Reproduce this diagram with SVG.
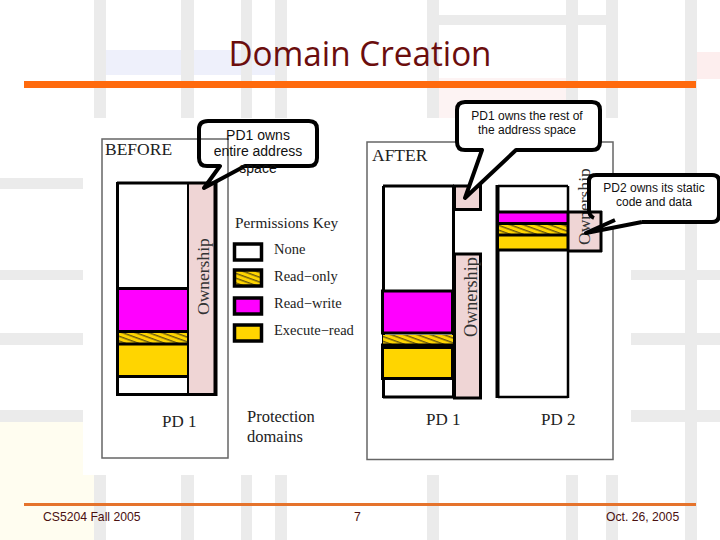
<svg xmlns="http://www.w3.org/2000/svg" width="720" height="540" viewBox="0 0 720 540">
<style>
.g{fill:#ebebeb}
.s{font-family:"Liberation Serif",serif;fill:#222}
.w{font-size:17.500px;fill:#333}
.a{font-family:"Liberation Sans",Arial,sans-serif;fill:#111;font-size:12px;text-anchor:middle}
.f{font-family:"Liberation Sans",Arial,sans-serif;fill:#4a1010;font-size:12.200px}
.b{fill:none;stroke:#000}
.c{fill:none;stroke:#000;stroke-width:4;stroke-linejoin:round}
.o{fill:#efd5d5}
.box{fill:#fff;stroke:#666;stroke-width:1.500}
</style>
<defs>
<pattern id="h" width="9" height="4.500" patternUnits="userSpaceOnUse" patternTransform="rotate(20)">
<rect width="9" height="4.500" fill="#ffd500"/><rect width="9" height="1.400" fill="#6b5a10"/>
</pattern>
</defs>
<rect width="720" height="540" fill="#fff"/>
<g id="background">
<rect x="105" y="50" width="170" height="25" fill="#eef0fb"/>
<rect x="697" y="52" width="23" height="27" fill="#fdeeee"/>
<rect x="438" y="78" width="128" height="40" fill="#fdf3f3"/>
<rect x="0" y="422" width="83" height="118" fill="#fffdf0"/>
<rect x="83" y="475" width="12" height="65" fill="#fffdf0"/>
<rect class="g" x="94" y="0" width="12" height="118"/><rect class="g" x="181" y="0" width="13" height="118"/><rect class="g" x="241" y="0" width="11" height="118"/><rect class="g" x="275" y="0" width="12" height="118"/>
<rect class="g" x="427" y="0" width="12" height="118"/><rect class="g" x="566" y="0" width="12" height="118"/><rect class="g" x="606" y="0" width="12" height="118"/>
<rect class="g" x="427" y="15" width="190" height="10"/>
<rect class="g" x="94" y="475" width="12" height="65"/><rect class="g" x="181" y="475" width="13" height="65"/><rect class="g" x="241" y="475" width="11" height="65"/><rect class="g" x="275" y="475" width="12" height="65"/>
<rect class="g" x="427" y="475" width="12" height="65"/><rect class="g" x="566" y="475" width="12" height="65"/><rect class="g" x="606" y="475" width="12" height="65"/>
<rect class="g" x="685" y="0" width="12" height="540"/>
<rect class="g" x="0" y="178" width="83" height="11"/><rect class="g" x="0" y="270" width="83" height="10"/><rect class="g" x="0" y="333" width="83" height="12"/><rect class="g" x="0" y="410" width="83" height="12"/>
<rect class="g" x="631" y="178" width="89" height="11"/><rect class="g" x="631" y="270" width="89" height="10"/><rect class="g" x="631" y="333" width="89" height="12"/><rect class="g" x="631" y="410" width="89" height="12"/>
</g>
<rect x="24" y="81" width="672" height="7" fill="#ff6a0d"/>
<rect x="24" y="503" width="672" height="3" fill="#e5732c"/>
<text x="360" y="66" text-anchor="middle" font-family="'Open Sans','Noto Sans',sans-serif" font-size="34" fill="#6b0d0d" textLength="263" lengthAdjust="spacingAndGlyphs">Domain Creation</text>
<g id="before">
<rect class="box" x="102" y="139" width="126" height="319"/>
<text class="s" x="105" y="155" font-size="17.500">BEFORE</text>
<rect x="189" y="183" width="26" height="211" class="o"/>
<rect x="118" y="289" width="70" height="42" fill="#ff00ff"/>
<rect x="118" y="333" width="70" height="10" fill="url(#h)"/>
<rect x="118" y="345" width="70" height="30" fill="#ffd500"/>
<path class="b" stroke-width="3" d="M117 288.500H188M117 331.500H188M117 344H188M117 376.500H188"/>
<path class="b" stroke-width="3" d="M117 183H216M116 394.500H217M117.500 182V396"/>
<path class="b" stroke-width="2" d="M188 183V394"/>
<path class="b" stroke-width="4" d="M215.500 182V396"/>
<text class="s w" transform="translate(209,315) rotate(-90)">Ownership</text>
<text class="s" x="162" y="427" font-size="17">PD 1</text>
</g>
<g id="key">
<text class="s" x="235" y="228" font-size="15.300">Permissions Key</text>
<rect x="234.500" y="244" width="27" height="16" fill="#fff" stroke="#000" stroke-width="3.500"/>
<rect x="234.500" y="270" width="27" height="16" fill="url(#h)" stroke="#000" stroke-width="3.500"/>
<rect x="234.500" y="298" width="27" height="16" fill="#ff00ff" stroke="#000" stroke-width="3.500"/>
<rect x="234.500" y="325" width="27" height="16" fill="#ffd500" stroke="#000" stroke-width="3.500"/>
<text class="s" x="274" y="254" font-size="14.500">None</text>
<text class="s" x="274" y="281" font-size="14.500">Read−only</text>
<text class="s" x="274" y="308" font-size="14.500">Read−write</text>
<text class="s" x="274" y="335" font-size="14.500">Execute−read</text>
<text class="s" x="247" y="422" font-size="16.500">Protection</text>
<text class="s" x="247" y="442" font-size="16.500">domains</text>
</g>
<g id="after">
<rect class="box" x="367" y="142" width="246" height="317.500"/>
<text class="s" x="372" y="161" font-size="17.500" fill="#444">AFTER</text>
<rect x="383" y="186" width="70" height="212" fill="#fff"/>
<rect x="454.500" y="186" width="26" height="23.500" class="o" stroke="#000" stroke-width="3"/>
<rect x="454.500" y="254" width="26" height="144" class="o" stroke="#000" stroke-width="3"/>
<path class="b" stroke-width="3" d="M383 186H454M383.500 186V398M383 397H454M453.500 186V398"/>
<rect x="382.500" y="291" width="70" height="42" fill="#ff00ff" stroke="#000" stroke-width="3"/>
<rect x="383" y="335" width="70" height="9" fill="url(#h)"/>
<rect x="382.500" y="347.500" width="70" height="31" fill="#ffd500" stroke="#000" stroke-width="3"/>
<path class="b" stroke-width="4" d="M381 345.500H453"/>
<text class="s w" transform="translate(477,337) rotate(-90)" style="font-size:18.200px">Ownership</text>
<rect x="498" y="186" width="70" height="211" fill="#fff"/>
<path class="b" stroke-width="2.500" d="M498 186H568M498 397H568M568 186V398"/>
<path class="b" stroke-width="4" d="M497.500 185V398"/>
<rect x="499" y="213" width="69" height="9" fill="#ff00ff"/>
<rect x="499" y="225" width="69" height="9" fill="url(#h)"/>
<rect x="499" y="236" width="69" height="13" fill="#ffd500"/>
<path class="b" stroke-width="3" d="M498 212H568M498 223.500H568M498 235H568M498 250H568"/>
<rect x="568" y="212" width="33" height="39" class="o"/>
<path class="b" stroke-width="3" d="M568 212V251M568 251H602"/>
<text class="s w" transform="translate(590,245) rotate(-90)">Ownership</text>
<text class="s" x="426" y="425" font-size="17">PD 1</text>
<text class="s" x="541" y="425" font-size="17">PD 2</text>
</g>
<g id="connectors">
<path class="c" d="M208 121H309Q317 121 317 129V158Q317 166 309 166H245L204 188L220 166H207Q199 166 199 158V129Q199 121 208 121Z"/>
<path d="M465 102H592Q600 102 600 110V142Q600 150 592 150H516L465 198L482 150H465Q457 150 457 142V110Q457 102 465 102Z" fill="#fff" stroke="#000" stroke-width="4" stroke-linejoin="round"/>
<path fill="#fff" d="M589 212V181Q589 175 596 175H712Q719 175 719 181V215Q719 222 712 222H642L586 233L601 226V212Z"/>
<path class="b" stroke-width="3" d="M567 212H602M601 211V252"/>
<path class="c" d="M642 222H712Q719 222 719 215V181Q719 175 712 175H596Q589 175 589 181V210Q589 216 594 218M615 220L586 233L642 222"/>
</g>
<g id="labels">
<text class="a" x="258" y="140" style="font-size:14px">PD1 owns</text>
<text class="a" x="258" y="156" style="font-size:14px">entire address</text>
<text class="a" x="258" y="173" style="font-size:14px">space</text>
<text class="a" x="527" y="120">PD1 owns the rest of</text>
<text class="a" x="527" y="134">the address space</text>
<text class="a" x="654" y="192">PD2 owns its static</text>
<text class="a" x="654" y="206">code and data</text>
</g>
<g id="footer">
<text class="f" x="43" y="521">CS5204 Fall 2005</text>
<text class="f" x="354" y="521">7</text>
<text class="f" x="606" y="521">Oct. 26, 2005</text>
</g>
</svg>
